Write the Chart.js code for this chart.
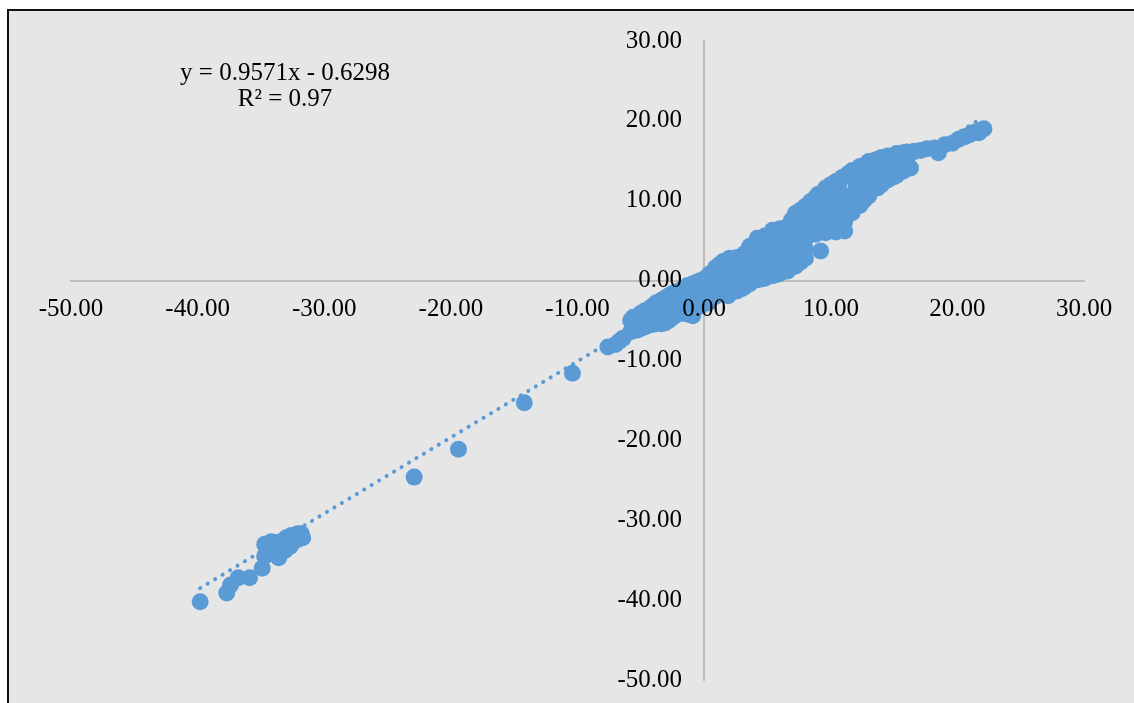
<!DOCTYPE html>
<html><head><meta charset="utf-8">
<script src="https://cdn.jsdelivr.net/npm/chart.js@4"></script>
<style>
html,body{margin:0;padding:0;background:#fff;overflow:hidden}
#frame{position:absolute;left:7px;top:9px;width:1127px;height:694px;background:#e6e6e6;border-left:2px solid #111;border-top:2px solid #111;box-sizing:border-box}
canvas{position:absolute;left:0;top:0}
</style></head><body>
<div id="frame"></div>
<canvas id="c" width="1134" height="703"></canvas>
<script>
const tailPoints = [[-39.8,-40.2],[-37.7,-39.1],[-37.4,-38.1],[-36.8,-37.2],[-35.9,-37.2],[-34.9,-36.0],[-34.7,-34.5],[-34.7,-33.0],[-34.2,-32.7],[-33.6,-34.7],[-33.1,-33.8],[-32.7,-33.3],[-33.3,-33.1],[-33.9,-33.4],[-34.2,-34.0],[-33.4,-32.7],[-32.5,-32.6],[-32.1,-32.4],[-31.8,-31.7],[-32.1,-31.7],[-31.7,-32.2],[-33.0,-32.2],[-33.8,-32.8],[-32.6,-31.9],[-32.6,-33.0],[-33.5,-33.9],[-22.9,-24.6],[-19.4,-21.1],[-14.2,-15.3],[-10.4,-11.6]];
const lowerBand = [[-7.6,-8.3],[-7.0,-8.0],[-6.7,-7.6],[-6.4,-7.2],[-5.8,-6.4],[-5.8,-5.0],[-5.6,-5.6],[-5.6,-4.6],[-5.3,-6.2],[-5.0,-6.0],[-5.0,-5.0],[-5.0,-4.1],[-4.7,-5.8],[-4.7,-3.8],[-4.4,-5.6],[-4.4,-4.6],[-4.4,-3.6],[-4.1,-5.5],[-4.1,-3.2],[-3.8,-5.4],[-3.8,-4.4],[-3.8,-3.3],[-3.8,-2.8],[-3.4,-5.4],[-3.4,-2.5],[-3.1,-5.3],[-3.1,-4.2],[-3.1,-3.2],[-3.1,-2.2],[-2.8,-5.0],[-2.8,-1.9],[-2.5,-4.6],[-2.5,-3.6],[-2.5,-2.6],[-2.5,-1.6],[-2.2,-4.3],[-2.2,-1.4],[-1.9,-4.0],[-1.9,-3.0],[-1.9,-2.0],[-1.9,-1.2],[-1.6,-4.1],[-1.6,-0.9],[-1.3,-4.2],[-1.3,-3.2],[-1.3,-2.2],[-1.3,-1.2],[-1.3,-0.6],[-0.9,-4.4],[-0.9,-3.4],[-0.9,-1.6],[-0.9,-0.4],[-0.6,-0.2],[-0.3,-3.2],[-0.3,-2.0],[-0.3,-1.0],[-0.3,0.0],[0.0,0.2],[0.3,-2.8],[0.3,-1.0],[0.3,0.3]];
const middleBand = [[0.4,-1.0],[0.4,0.0],[0.4,0.8],[0.6,1.0],[0.9,-2.0],[0.9,-1.0],[0.9,0.2],[0.9,1.6],[1.2,2.0],[1.5,-1.6],[1.5,-0.6],[1.5,0.6],[1.5,1.6],[1.5,2.4],[1.9,-1.9],[1.9,-0.8],[1.9,0.4],[1.9,1.5],[2.0,2.8],[2.6,-1.3],[2.6,-0.2],[2.6,1.0],[2.6,2.0],[2.6,2.9],[3.0,-1.0],[3.2,-0.8],[3.2,0.3],[3.2,1.4],[3.2,2.5],[3.2,3.4],[3.6,-0.4],[3.6,0.7],[3.6,1.8],[3.6,2.9],[3.6,4.3],[4.2,0.1],[4.2,1.2],[4.2,2.3],[4.2,3.4],[4.2,4.4],[4.2,5.3],[4.5,0.2],[4.8,0.3],[4.8,1.5],[4.8,2.6],[4.8,3.7],[4.8,4.7],[4.8,5.6],[5.4,0.6],[5.4,1.7],[5.4,2.9],[5.4,4.0],[5.4,5.1],[5.4,6.3],[5.8,0.8],[6.0,0.9],[6.0,2.0],[6.0,3.2],[6.0,4.3],[6.0,5.4],[6.0,6.5],[6.6,1.2],[6.6,2.4],[6.6,3.6],[6.6,4.8],[6.6,5.8],[6.6,6.8],[6.9,7.6],[7.2,1.8],[7.2,3.0],[7.2,4.2],[7.2,5.4],[7.2,6.6],[7.2,7.8],[7.2,8.4],[7.6,2.3],[7.6,8.8],[8.0,2.8],[8.0,4.0],[8.0,5.2],[8.0,6.4],[8.0,7.6],[8.0,8.8],[8.0,9.3],[8.4,9.9],[9.2,3.7]];
const upperBand = [[8.8,5.8],[8.8,6.8],[8.8,8.0],[8.8,9.2],[8.8,10.4],[9.0,10.8],[9.6,6.0],[9.6,7.2],[9.6,8.4],[9.6,9.6],[9.6,10.8],[9.6,11.6],[10.0,12.0],[10.4,6.1],[10.4,7.4],[10.4,8.6],[10.4,9.8],[10.4,11.0],[10.4,12.4],[10.6,11.8],[10.9,12.9],[11.1,6.2],[11.1,7.4],[11.1,8.6],[11.1,9.8],[11.1,10.6],[11.1,13.0],[11.4,13.4],[11.7,8.5],[11.7,9.8],[12.0,10.9],[12.0,11.8],[12.0,12.9],[11.7,13.8],[12.3,9.4],[12.3,10.6],[12.6,10.0],[12.6,11.8],[12.3,13.0],[12.3,14.3],[12.8,14.6],[13.0,10.6],[13.0,11.8],[13.0,13.0],[13.0,14.2],[13.0,14.9],[13.4,15.0],[13.7,11.6],[13.7,12.8],[13.7,14.0],[13.7,15.2],[14.0,12.0],[14.0,15.4],[14.5,12.6],[14.5,13.8],[14.5,15.0],[14.5,15.6],[15.0,13.0],[15.2,13.2],[15.2,14.4],[15.2,15.6],[15.2,15.9],[15.7,13.7],[15.7,14.9],[15.7,16.0],[16.0,16.1],[16.0,15.0],[16.3,14.1],[16.6,16.2],[17.1,16.3],[17.6,16.5],[18.2,16.6],[18.5,16.0],[19.0,17.0],[19.6,17.2],[20.1,17.7],[20.6,18.0],[21.0,18.3],[21.4,18.6],[21.8,18.8],[22.1,19.0],[21.7,18.5]];
const trendX = [-39.8, 21.9];
const trendY = [-38.5, 20.3];
const equationLines = ["y = 0.9571x - 0.6298", "R\u00b2 = 0.97"];
const axisMin = -50, yAxisMax = 30, xAxisMax = 30, tickStep = 10;
const yLabelColumnX = -1.74;

const toXY = a => a.map(p => ({x:p[0], y:p[1]}));
const scatter = [...tailPoints, ...lowerBand, ...middleBand, ...upperBand];
const SERIF = '"Liberation Serif","Times New Roman",serif';
const equationLabel = {
  id:'equationLabel',
  afterDraw(chart){
    const c = chart.ctx; c.save();
    c.font = '25px '+SERIF; c.fillStyle='#000'; c.textAlign='center'; c.textBaseline='middle';
    c.fillText(equationLines[0], 285, 73);
    c.fillText(equationLines[1], 285, 99);
    c.restore();
  }
};
const tickOpts = {font:{family:SERIF,size:25},color:'#000',z:1,autoSkip:false,maxRotation:0,minRotation:0,stepSize:tickStep,callback:v=>Number(v).toFixed(2)};
new Chart(document.getElementById('c'),{
  type:'scatter',
  data:{datasets:[
    {data:toXY(scatter),pointRadius:8.5,pointHoverRadius:8.5,backgroundColor:'#5b9bd5',borderColor:'#5b9bd5',pointBorderWidth:0,showLine:false},
    {data:trendX.map((x,i)=>({x,y:trendY[i]})),showLine:true,pointRadius:0,borderColor:'#5b9bd5',borderWidth:4,borderDash:[0.1,8.6],borderCapStyle:'round',tension:0}
  ]},
  options:{
    responsive:false,animation:false,
    layout:{padding:{left:71,right:50,top:41,bottom:23}},
    plugins:{legend:{display:false},title:{display:false},tooltip:{enabled:false}},
    scales:{
      x:{type:'linear',position:{y:0},min:axisMin,max:xAxisMax,grid:{display:false,drawTicks:false},border:{color:'#bfbfbf',width:2},ticks:{...tickOpts,padding:14}},
      y:{type:'linear',position:{x:0},min:axisMin,max:yAxisMax,grid:{display:false,drawTicks:false},border:{color:'#bfbfbf',width:2},ticks:{display:false,stepSize:tickStep}},
      yLabels:{type:'linear',axis:'y',position:{x:yLabelColumnX},min:axisMin,max:yAxisMax,grid:{display:false,drawTicks:false},border:{display:false},ticks:{...tickOpts}}
    }
  },
  plugins:[equationLabel]
});
</script>
</body></html>
